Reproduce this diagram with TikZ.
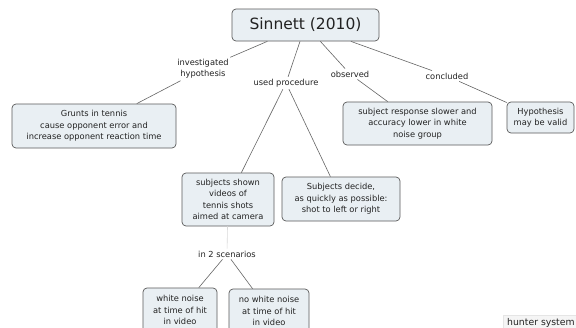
\documentclass[tikz,border=0pt]{standalone}
\usepackage{fontspec}
\setmainfont{DejaVu Sans}
\definecolor{boxfill}{HTML}{E9EFF3}
\definecolor{boxline}{HTML}{5A5A5A}
\definecolor{txt}{HTML}{222222}
\begin{document}
\begin{tikzpicture}[x=1pt,y=-1pt,
  concept/.style={draw=boxline, fill=boxfill, rounded corners=4pt, align=center,
    text=txt, font=\fontsize{8.3}{11.5}\selectfont, inner sep=0pt, line width=0.7pt},
  lbl/.style={align=center, text=txt, font=\fontsize{8.3}{11}\selectfont, inner sep=2pt},
  link/.style={draw=black!60, line width=0.6pt},
  faint/.style={draw=black!15, line width=0.6pt}]
\useasboundingbox (0,0) rectangle (576,327);
\clip (0,0) rectangle (576,327);
\fill[white] (0,0) rectangle (576,327);

\node[concept, minimum width=147pt, minimum height=32pt, font=\fontsize{15.5}{17}\selectfont] (sin) at (305.5,25) {Sinnett (2010)};
\node[concept, minimum width=164pt, minimum height=44pt] (grunt) at (94,126) {Grunts in tennis\\cause opponent error and\\increase opponent reaction time};
\node[concept, minimum width=149pt, minimum height=43pt] (resp) at (417.5,123.5) {subject response slower and\\accuracy lower in white\\noise group};
\node[concept, minimum width=67pt, minimum height=31pt] (hyp) at (540.5,117.5) {Hypothesis\\may be valid};
\node[concept, minimum width=92pt, minimum height=53pt] (shown) at (228,199.5) {subjects shown\\videos of\\tennis shots\\aimed at camera};
\node[concept, minimum width=118pt, minimum height=44pt] (decide) at (341,199) {Subjects decide,\\as quickly as possible:\\shot to left or right};
\node[concept, minimum width=74pt, minimum height=44pt] (wn) at (180,310) {white noise\\at time of hit\\in video};
\node[concept, minimum width=80pt, minimum height=44pt] (nwn) at (269,311) {no white noise\\at time of hit\\in video};

\node[lbl] (l1) at (203,69) {investigated\\hypothesis};
\node[lbl] (l2) at (286,83) {used procedure};
\node[lbl] (l3) at (350,74) {observed};
\node[lbl] (l4) at (447,76) {concluded};
\node[lbl] (l5) at (227,254) {in 2 scenarios};

\draw[link] (sin) -- (l1);
\draw[link] (l1) -- (grunt);
\draw[link] (sin) -- (l2);
\draw[link] (l2) -- (shown);
\draw[link] (l2) -- (decide);
\draw[link] (sin) -- (l3);
\draw[link] (l3) -- (resp);
\draw[link] (sin) -- (l4);
\draw[link] (l4) -- (hyp);
\draw[faint] (shown) -- (l5);
\draw[link] (l5) -- (wn);
\draw[link] (l5) -- (nwn);

\node[draw=black!10, fill=black!4, anchor=north west, inner xsep=4pt, inner ysep=3pt,
  font=\fontsize{9.3}{10}\selectfont, text=txt] (hunt) at (503,315) {hunter system};
\end{tikzpicture}
\end{document}
